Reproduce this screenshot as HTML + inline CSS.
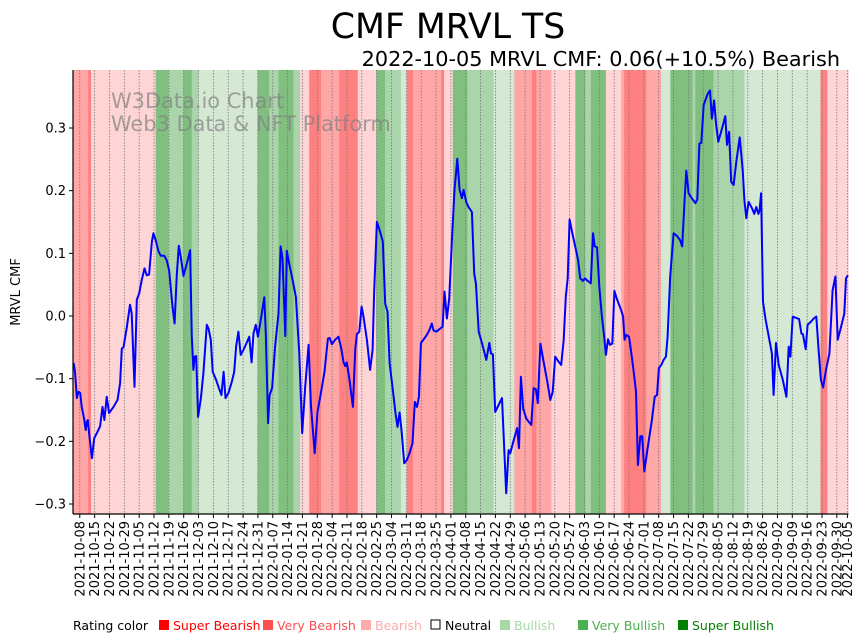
<!DOCTYPE html>
<html><head><meta charset="utf-8">
<style>
html,body{margin:0;padding:0;background:#fff;}
svg{display:block;font-family:"DejaVu Sans","Liberation Sans",sans-serif;}
</style></head>
<body>
<svg id="chart" width="867" height="641" viewBox="0 0 867 641">
<text x="448" y="38" font-size="34.7" text-anchor="middle">CMF MRVL TS</text>
<text x="840" y="66" font-size="20.8" text-anchor="end">2022-10-05 MRVL CMF: 0.06(+10.5%) Bearish</text>
<g id="bands"></g>
<g id="grid"></g>
<g fill="#808080" fill-opacity="0.7" font-size="20.9">
<text x="111" y="108">W3Data.io Chart</text>
<text x="111" y="131">Web3 Data &amp; NFT Platform</text>
</g>
<path id="line" fill="none" stroke="#0000ff" stroke-width="2" stroke-linejoin="round"></path>
<g id="yaxis"></g>
<g id="xaxis"></g>
<text transform="translate(20,292) rotate(-90)" font-size="13" text-anchor="middle">MRVL CMF</text>
<g id="legend" font-size="12.5">
<text x="73" y="630" fill="#000">Rating color</text>
<rect x="159" y="620" width="10" height="10" fill="#ff0000"/><text x="173" y="630" fill="#ff0000">Super Bearish</text>
<rect x="263" y="620" width="10" height="10" fill="#ff5050"/><text x="277" y="630" fill="#ff5050">Very Bearish</text>
<rect x="361" y="620" width="10" height="10" fill="#ffaaaa"/><text x="375" y="630" fill="#ffaaaa">Bearish</text>
<rect x="431" y="620" width="9" height="9" fill="#fff" stroke="#000"/><text x="445" y="630" fill="#000">Neutral</text>
<rect x="500" y="620" width="10" height="10" fill="#a8d8a8"/><text x="514" y="630" fill="#a8d8a8">Bullish</text>
<rect x="578" y="620" width="10" height="10" fill="#4caf50"/><text x="592" y="630" fill="#4caf50">Very Bullish</text>
<rect x="678" y="620" width="10" height="10" fill="#008000"/><text x="692" y="630" fill="#008000">Super Bullish</text>
</g>
</svg>
<script>
// day offsets from 2021-10-08
const days = [-2.9,-2.2,-1.4,-0.6,0.2,0.9,2.0,2.8,3.3,3.8,4.4,5.7,6.8,8.0,9.6,10.7,11.6,12.7,13.8,15.9,17.8,19.0,19.8,20.6,22.2,23.7,24.5,25.8,26.9,28.0,29.2,30.5,31.6,32.7,34.0,34.7,35.8,37.1,38.2,39.8,41.0,42.1,43.7,44.7,45.7,46.7,47.6,48.9,50.5,52.0,52.8,53.6,54.2,54.9,55.8,57.1,58.3,59.9,60.7,61.8,62.7,64.3,65.6,66.8,67.8,68.7,70.1,71.7,72.8,73.7,74.8,75.9,77.2,78.5,79.9,81.0,81.9,83.0,84.0,85.1,87.0,87.7,88.8,89.5,90.7,92.1,93.7,94.7,95.6,96.9,97.6,98.9,100.5,101.9,103.5,104.9,106.3,107.9,109.0,110.8,112.1,113.7,115.4,117.0,117.8,118.9,120.4,122.0,123.3,124.4,125.2,125.9,127.2,128.8,129.9,130.7,131.8,132.9,133.8,135.4,136.9,138.1,138.8,140.1,141.4,142.9,144.0,145.1,146.1,147.5,148.9,149.8,150.8,151.7,153.0,154.2,155.5,156.9,158.0,159.0,159.9,160.9,162.4,163.7,164.9,166.0,166.8,168.1,169.2,170.0,171.1,172.0,173.1,174.2,175.5,176.7,178.0,179.1,180.2,181.0,182.2,183.3,184.9,186.0,186.8,188.1,189.7,191.7,193.1,193.9,194.8,195.9,197.5,199.1,201.1,202.2,203.0,204.6,206.2,207.1,208.0,209.1,210.6,212.9,214.0,215.1,216.0,217.2,218.7,220.3,221.9,223.0,224.2,225.8,227.0,228.2,229.2,230.1,231.0,232.6,234.0,235.0,236.0,237.3,238.2,239.5,241.0,242.0,242.8,243.9,245.0,246.2,247.3,248.1,249.1,250.0,251.1,252.1,253.0,254.1,255.2,256.2,256.9,257.7,259.0,259.9,261.2,262.3,263.2,264.3,265.2,266.2,267.9,269.8,271.1,272.2,273.1,274.2,275.3,276.4,277.2,278.4,280.0,281.6,283.1,284.1,285.2,286.0,287.1,288.2,290.3,291.2,292.2,293.1,294.2,295.3,296.2,297.2,298.1,299.1,300.0,301.1,302.0,303.3,304.4,305.2,306.2,307.2,308.3,309.6,311.2,312.6,313.4,314.3,315.4,317.0,318.1,319.0,320.0,320.6,321.3,322.2,323.3,324.9,326.4,327.2,328.3,329.6,331.5,333.2,334.3,335.1,336.2,337.8,339.2,340.3,341.0,342.3,343.2,344.8,346.1,347.3,348.4,349.5,350.5,351.9,353.5,355.0,356.3,357.4,359.0,360.5,361.3,362.2];
const cmf = [-0.075,-0.090,-0.131,-0.121,-0.123,-0.145,-0.163,-0.182,-0.169,-0.166,-0.187,-0.227,-0.195,-0.187,-0.176,-0.145,-0.166,-0.129,-0.155,-0.145,-0.134,-0.107,-0.052,-0.050,-0.017,0.018,0.004,-0.113,0.026,0.036,0.057,0.076,0.065,0.066,0.119,0.132,0.121,0.103,0.096,0.096,0.089,0.073,0.015,-0.012,0.063,0.112,0.095,0.064,0.084,0.105,-0.033,-0.086,-0.065,-0.064,-0.161,-0.131,-0.091,-0.014,-0.020,-0.038,-0.089,-0.102,-0.115,-0.126,-0.089,-0.131,-0.123,-0.105,-0.089,-0.049,-0.025,-0.062,-0.054,-0.044,-0.033,-0.074,-0.028,-0.014,-0.033,-0.012,0.030,-0.028,-0.171,-0.126,-0.115,-0.049,0.004,0.111,0.092,-0.032,0.104,0.081,0.055,0.030,-0.060,-0.187,-0.113,-0.046,-0.142,-0.219,-0.153,-0.123,-0.089,-0.036,-0.035,-0.045,-0.038,-0.033,-0.052,-0.074,-0.080,-0.074,-0.102,-0.145,-0.052,-0.029,-0.025,0.015,-0.001,-0.038,-0.086,-0.054,0.036,0.150,0.137,0.119,0.020,0.007,-0.075,-0.115,-0.155,-0.177,-0.154,-0.182,-0.235,-0.230,-0.219,-0.203,-0.137,-0.145,-0.129,-0.043,-0.036,-0.030,-0.022,-0.012,-0.023,-0.025,-0.022,-0.020,-0.017,0.039,-0.004,0.028,0.121,0.201,0.251,0.201,0.188,0.201,0.182,0.174,0.166,0.068,0.052,-0.025,-0.044,-0.070,-0.043,-0.060,-0.061,-0.153,-0.142,-0.131,-0.283,-0.214,-0.219,-0.198,-0.179,-0.211,-0.097,-0.148,-0.164,-0.174,-0.115,-0.117,-0.139,-0.044,-0.073,-0.102,-0.134,-0.121,-0.065,-0.073,-0.078,-0.038,0.031,0.060,0.154,0.127,0.105,0.089,0.060,0.056,0.060,0.056,0.052,0.132,0.111,0.110,0.047,-0.001,-0.033,-0.062,-0.037,-0.046,-0.044,0.040,0.030,0.020,0.010,-0.001,-0.038,-0.030,-0.033,-0.054,-0.089,-0.121,-0.238,-0.192,-0.192,-0.248,-0.208,-0.166,-0.129,-0.126,-0.083,-0.078,-0.070,-0.065,-0.033,0.063,0.132,0.128,0.121,0.111,0.185,0.232,0.196,0.190,0.180,0.186,0.275,0.276,0.337,0.347,0.355,0.360,0.315,0.344,0.307,0.278,0.289,0.305,0.319,0.273,0.294,0.214,0.209,0.246,0.285,0.233,0.185,0.156,0.182,0.172,0.163,0.174,0.163,0.169,0.196,0.023,-0.004,-0.033,-0.060,-0.126,-0.043,-0.078,-0.102,-0.129,-0.049,-0.065,-0.001,-0.003,-0.005,-0.028,-0.029,-0.053,-0.014,-0.009,-0.004,-0.001,-0.054,-0.102,-0.114,-0.086,-0.060,0.041,0.063,-0.038,-0.017,0.004,0.060,0.065];
const bandStart = [-3.2,3.9,5.3,35.8,41.8,48.9,52.8,55.9,83.8,89.3,93.7,100.8,103.9,108.2,113.8,122.3,131.1,139.8,144.0,151.4,154.2,157.1,170.4,171.8,175.9,182.8,195.1,204.9,213.2,215.3,222.4,233.7,238.4,241.0,248.1,255.3,256.7,267.1,274.1,278.5,289.0,290.3,298.8,313.4,349.3,352.5];
const bandEnd = [3.9,5.3,35.8,41.8,48.9,52.8,55.9,83.8,89.3,93.7,100.8,103.9,108.2,113.8,122.3,131.1,139.8,144.0,151.4,154.2,157.1,170.4,171.8,175.9,182.8,195.1,204.9,213.2,215.3,222.4,233.7,238.4,241.0,248.1,255.3,256.7,267.1,274.1,278.5,289.0,290.3,298.8,313.4,349.3,352.5,362.5];
const bandRating = ['VB','SB','B','SU','VU','SU','VU','U','SU','VU','SU','VU','B','SB','VB','SB','B','SU','VU','U','SB','VB','SB','B','SU','VU','U','VB','SB','VB','B','SU','VU','SU','B','VB','SB','VB','U','SU','VU','SU','VU','U','SB','B'];
const yTicks = [-0.3,-0.2,-0.1,0.0,0.1,0.2,0.3];
const yTickLabels = ['−0.3','−0.2','−0.1','0.0','0.1','0.2','0.3'];
const xTickLabels = ['2021-10-08','2021-10-15','2021-10-22','2021-10-29','2021-11-05','2021-11-12','2021-11-19','2021-11-26','2021-12-03','2021-12-10','2021-12-17','2021-12-24','2021-12-31','2022-01-07','2022-01-14','2022-01-21','2022-01-28','2022-02-04','2022-02-11','2022-02-18','2022-02-25','2022-03-04','2022-03-11','2022-03-18','2022-03-25','2022-04-01','2022-04-08','2022-04-15','2022-04-22','2022-04-29','2022-05-06','2022-05-13','2022-05-20','2022-05-27','2022-06-03','2022-06-10','2022-06-17','2022-06-24','2022-07-01','2022-07-08','2022-07-15','2022-07-22','2022-07-29','2022-08-05','2022-08-12','2022-08-19','2022-08-26','2022-09-02','2022-09-09','2022-09-16','2022-09-23','2022-09-30','2022-10-05'];

const NS = 'http://www.w3.org/2000/svg';
const L = 73, R = 848.5, T = 70, B = 514;
const dMin = -3.2, dMax = 362.5, vMin = -0.3, vMax = 0.3;
const yTop = 128, yBot = 504;
function xs(d){ return L + (d - dMin) / (dMax - dMin) * (R - L); }
function ys(v){ return yBot - (v - vMin) / (vMax - vMin) * (yBot - yTop); }
const colors = {B:'#ffd4d4', VB:'#ffa6a6', SB:'#ff8080', U:'#d5e8d4', VU:'#aad4aa', SU:'#80bf80'};
function mk(tag, attrs, parent){ const e = document.createElementNS(NS, tag); for (const k in attrs) e.setAttribute(k, attrs[k]); parent.appendChild(e); return e; }

const gb = document.getElementById('bands');
bandStart.forEach((s, i) => {
  const r = mk('rect', {x: xs(s), y: T, width: Math.max(0, xs(bandEnd[i]) - xs(s)) + 0.3, height: B - T, fill: colors[bandRating[i]]}, gb);
  
  
});

function dayOf(lbl){ const t = Date.UTC(+lbl.slice(0,4), +lbl.slice(5,7)-1, +lbl.slice(8,10)); return (t - Date.UTC(2021,9,8)) / 86400000; }
const gg = document.getElementById('grid');
const gx = document.getElementById('xaxis');
xTickLabels.forEach(lbl => {
  const x = xs(dayOf(lbl));
  const g = mk('line', {x1: x, x2: x, y1: T, y2: B, stroke: '#777', 'stroke-width': 0.8, 'stroke-dasharray': '1.5,1.5'}, gg);
  
  
  mk('line', {x1: x, x2: x, y1: B, y2: B + 4, stroke: '#000', 'stroke-width': 1}, gx);
  const t = mk('text', {transform: `translate(${x + 4.5},${B + 7}) rotate(-90)`, 'font-size': 13, 'text-anchor': 'end'}, gx);
  t.textContent = lbl;
  
  
});
mk('line', {x1: L, x2: R, y1: B, y2: B, stroke: '#000', 'stroke-width': 1.2}, gx);

const gy = document.getElementById('yaxis');
mk('line', {x1: L, x2: L, y1: T, y2: B, stroke: '#000', 'stroke-width': 1.2}, gy);
yTicks.forEach((v, i) => {
  const y = ys(v);
  mk('line', {x1: L - 4, x2: L, y1: y, y2: y, stroke: '#000', 'stroke-width': 1}, gy);
  const t = mk('text', {x: L - 7, y: y + 4.5, 'font-size': 13, 'text-anchor': 'end'}, gy);
  t.textContent = yTickLabels[i];
  
  
});

let d = '';
days.forEach((dd, i) => { d += (i ? 'L' : 'M') + xs(dd).toFixed(1) + ',' + ys(cmf[i]).toFixed(1); });
document.getElementById('line').setAttribute('d', d);
</script>
</body></html>
